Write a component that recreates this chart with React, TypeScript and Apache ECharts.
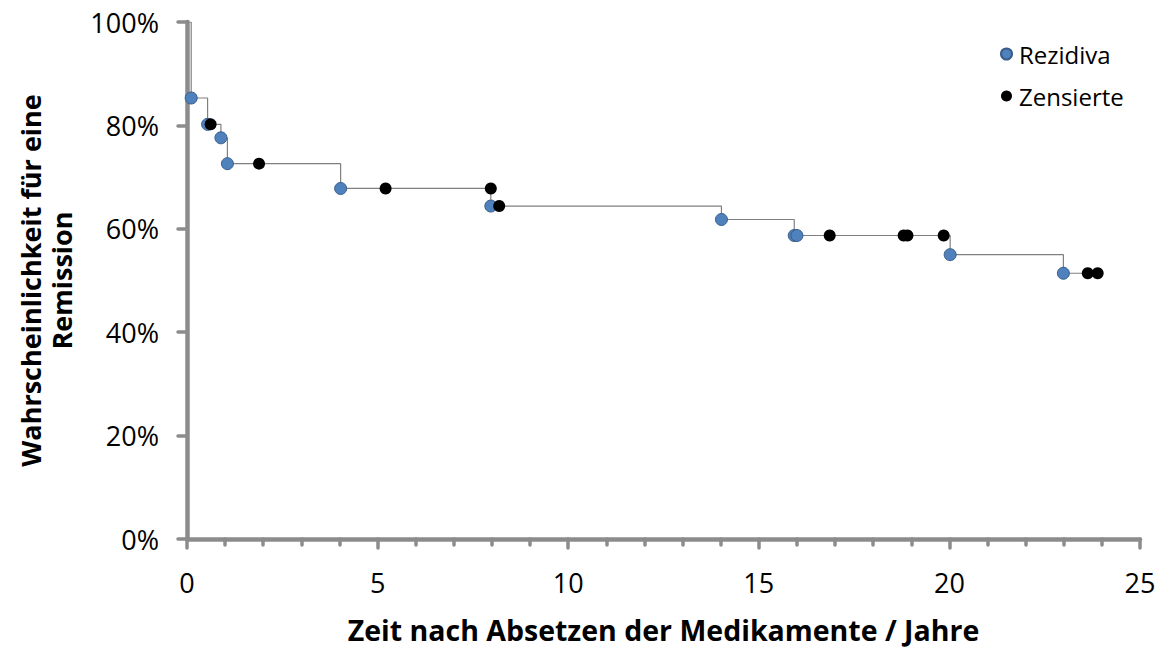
import React, { useEffect, useRef } from "react";
import * as echarts from "echarts";

const relapseTimes = [0.11, 0.54, 0.89, 1.06, 4.03, 7.97, 14.02, 15.93, 16.0, 20.02, 22.99];
const relapseSurvival = [85.3, 80.2, 77.6, 72.6, 67.8, 64.4, 61.8, 58.7, 58.7, 55.0, 51.4];
const censoredTimes = [0.62, 1.89, 5.21, 7.97, 8.19, 16.86, 18.8, 18.9, 19.85, 23.63, 23.89];
const censoredSurvival = [80.2, 72.6, 67.8, 67.8, 64.4, 58.7, 58.7, 58.7, 58.7, 51.4, 51.4];
const startPoint = [0, 100];
const xTicks = [0, 5, 10, 15, 20, 25];
const yTicks = [0, 20, 40, 60, 80, 100];

const FONT = "'Open Sans', 'DejaVu Sans', sans-serif";
const AXIS_COLOR = "#8c8c8c";

export default function App() {
  const ref = useRef<HTMLDivElement>(null);
  useEffect(() => {
    if (!ref.current) return;
    const chart = echarts.init(ref.current, undefined, { renderer: "svg" });
    const relapse = relapseTimes.map((t, i) => [t, relapseSurvival[i]]);
    const censored = censoredTimes.map((t, i) => [t, censoredSurvival[i]]);
    const lastIdx = censoredTimes.length - 1;
    const curve = [startPoint, ...relapse, [censoredTimes[lastIdx], censoredSurvival[lastIdx]]];
    chart.setOption({
      animation: false,
      backgroundColor: "#ffffff",
      grid: { left: 187, right: 22, top: 22, bottom: 111, containLabel: false },
      legend: {
        orient: "vertical",
        left: 995,
        top: 37,
        itemWidth: 11,
        itemHeight: 11,
        itemGap: 18,
        textStyle: { fontFamily: FONT, fontSize: 24, color: "#000", padding: [0, 0, 0, 2] },
        data: [
          { name: "Rezidiva", icon: "circle" },
          { name: "Zensierte", icon: "circle" },
        ],
      },
      xAxis: {
        type: "value",
        min: xTicks[0],
        max: xTicks[xTicks.length - 1],
        interval: 5,
        name: "Zeit nach Absetzen der Medikamente / Jahre",
        nameLocation: "middle",
        nameGap: 76,
        nameTextStyle: { fontFamily: FONT, fontSize: 28.5, fontWeight: "bold", color: "#000" },
        axisLine: { show: true, lineStyle: { color: AXIS_COLOR, width: 4.5, opacity: 1, cap: "round" } },
        axisTick: { show: true, length: 9, lineStyle: { color: AXIS_COLOR, width: 3.5, cap: "round" } },
        minorTick: { show: true, splitNumber: 5, length: 6, lineStyle: { color: AXIS_COLOR, width: 3.5, cap: "round" } },
        axisLabel: { fontFamily: FONT, fontSize: 27, color: "#000", margin: 30 },
        splitLine: { show: false },
      },
      yAxis: {
        type: "value",
        min: yTicks[0],
        max: yTicks[yTicks.length - 1],
        interval: 20,
        name: "Wahrscheinlichkeit für eine\nRemission",
        nameLocation: "middle",
        nameGap: 110,
        nameRotate: 90,
        nameTextStyle: { fontFamily: FONT, fontSize: 27, fontWeight: "bold", color: "#000", lineHeight: 31 },
        axisLine: { show: true, lineStyle: { color: AXIS_COLOR, width: 4.5, opacity: 1, cap: "round" } },
        axisTick: { show: true, length: 9, lineStyle: { color: AXIS_COLOR, width: 3.5, cap: "round" } },
        axisLabel: { fontFamily: FONT, fontSize: 27, color: "#000", margin: 28, formatter: "{value}%" },
        splitLine: { show: false },
      },
      series: [
        {
          name: "Kurve",
          type: "line",
          step: "end",
          data: curve,
          symbol: "none",
          lineStyle: { color: "#808080", width: 1.2 },
          silent: true,
          z: 1,
        },
        {
          name: "Rezidiva",
          type: "scatter",
          data: relapse,
          symbol: "circle",
          symbolSize: 12,
          itemStyle: { color: "#4F81BD", borderColor: "#385D8A", borderWidth: 1, opacity: 1 },
          z: 2,
        },
        {
          name: "Zensierte",
          type: "scatter",
          data: censored,
          symbol: "circle",
          symbolSize: 12,
          itemStyle: { color: "#000000", opacity: 1 },
          z: 3,
        },
      ],
    });
    return () => chart.dispose();
  }, []);
  return (
    <div
      ref={ref}
      style={{ position: "fixed", left: 0, top: 0, width: 1162, height: 650, background: "#fff" }}
    />
  );
}
